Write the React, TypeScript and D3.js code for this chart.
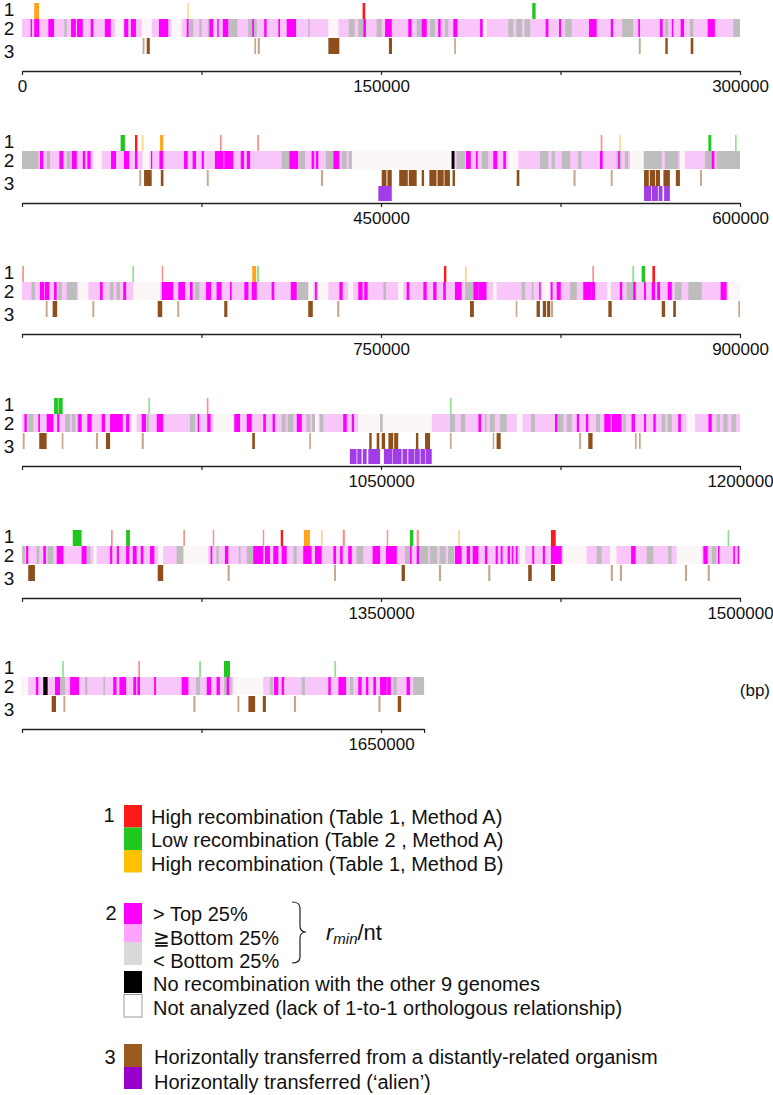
import {useEffect, useRef} from "react";
import * as d3 from "d3";

// positions are in kb along the genome: [start, width]
const GENOME_END = 1668;
const PANEL_LEN = 300;
const panelTops = [19, 151, 282, 414, 546, 677];

// track 2: r_min/nt classes
const magentaGenes = [
    [3.6, 0.6], [5.1, 2.1], [11.0, 2.4], [20.5, 2.0], [23.0, 2.4], [28.7, 1.1], [34.6, 2.5], [42.7, 1.7], [45.5, 2.1],
    [57.2, 3.9], [68.8, 0.8], [78.3, 1.6], [81.6, 0.6], [83.9, 2.3], [96.2, 0.7], [101.2, 1.0], [107.1, 0.7], [110.6, 3.9],
    [142.6, 1.1], [151.7, 2.8], [161.4, 1.4], [167.0, 2.1], [173.9, 1.0], [180.2, 1.7], [191.4, 1.1], [218.8, 1.1],
    [224.4, 0.8], [236.9, 3.2], [246.0, 1.0], [257.5, 0.7], [266.6, 1.1], [271.5, 0.6], [275.2, 1.4], [286.5, 3.0],
    [307.5, 1.4], [315.6, 1.7], [320.8, 2.1], [325.4, 1.0], [327.3, 1.4], [337.2, 2.1], [342.6, 2.2], [347.2, 1.0],
    [353.9, 0.5], [357.4, 1.6], [367.7, 1.5], [371.3, 1.4], [375.1, 0.9], [380.6, 3.6], [384.5, 3.8], [391.4, 1.4],
    [393.9, 1.4], [411.7, 3.7], [421.0, 1.1], [422.8, 1.0], [430.1, 2.5], [485.5, 2.0], [489.7, 0.7], [496.9, 1.7],
    [501.1, 1.1], [541.5, 1.1], [549.1, 0.7], [588.2, 1.1],
    [607.5, 1.8], [609.6, 1.8], [613.4, 1.1], [632.6, 1.1], [642.3, 1.2], [658.4, 4.8], [665.3, 2.8], [670.2, 1.1],
    [676.9, 2.1], [681.3, 2.1], [686.9, 0.7], [692.9, 1.7], [696.0, 2.1], [704.3, 1.1], [712.3, 2.5], [722.4, 0.8],
    [732.6, 1.4], [740.5, 1.8], [743.0, 1.4], [760.7, 1.1], [767.7, 1.4], [771.8, 1.4], [776.0, 1.1], [780.9, 2.8],
    [788.6, 2.1], [790.7, 3.4], [816.1, 0.6], [820.9, 0.8], [823.4, 1.7], [834.5, 3.5], [838.0, 1.4], [849.8, 1.0],
    [855.4, 1.0], [859.9, 0.8], [863.1, 1.4], [865.4, 1.2], [869.8, 1.7], [891.9, 2.5],
    [901.0, 1.0], [906.8, 0.7], [910.3, 2.8], [914.7, 0.9], [923.5, 1.4], [927.3, 1.8], [933.3, 1.4], [936.8, 5.3],
    [943.5, 1.3], [950.0, 1.8], [956.3, 2.7], [973.4, 0.6], [977.4, 1.4], [988.7, 2.4], [993.9, 2.1], [1000.8, 1.1],
    [1004.7, 1.0], [1014.8, 2.1], [1034.2, 1.5], [1037.8, 0.9], [1090.7, 1.1], [1122.7, 1.0], [1131.8, 1.0],
    [1135.6, 1.0], [1143.3, 2.7], [1146.4, 4.1], [1154.7, 1.4], [1159.9, 0.8], [1163.8, 1.0], [1174.2, 1.1], [1186.8, 1.4],
    [1201.7, 0.9], [1208.9, 1.1], [1214.5, 2.8], [1224.9, 2.1], [1236.8, 0.9], [1239.6, 0.9], [1243.5, 1.3],
    [1246.3, 1.6], [1249.6, 1.1], [1253.5, 1.8], [1278.8, 0.7], [1284.8, 1.4], [1296.6, 4.2], [1301.5, 2.1],
    [1305.0, 2.1], [1308.5, 2.1], [1317.5, 3.5], [1322.4, 2.8], [1330.1, 1.1], [1332.9, 1.1], [1336.3, 1.5],
    [1346.5, 3.1], [1352.1, 4.5], [1362.1, 0.7], [1364.9, 1.1], [1380.9, 2.8], [1385.8, 1.4], [1388.3, 2.4],
    [1393.4, 1.0], [1397.9, 0.9], [1400.0, 0.8], [1402.9, 1.0], [1404.6, 0.7], [1406.3, 0.8], [1413.2, 0.8],
    [1417.6, 0.9], [1421.0, 4.5], [1454.5, 1.9], [1484.7, 1.8], [1490.8, 0.6], [1497.2, 0.7], [1499.0, 0.6],
    [1505.8, 1.0], [1513.8, 2.1], [1520.1, 3.7], [1538.1, 1.4], [1540.7, 2.8], [1546.5, 1.2], [1548.2, 1.1],
    [1555.2, 0.8], [1566.7, 2.8], [1577.2, 1.8], [1581.3, 1.4], [1585.5, 1.0], [1605.3, 1.8], [1608.5, 1.0],
    [1628.0, 1.0], [1632.2, 3.2], [1640.5, 1.4], [1643.7, 1.0], [1646.8, 1.1], [1649.6, 2.8], [1652.6, 1.5], [1660.7, 1.4]
];

const grayGenes = [
    [17.7, 1.0], [69.6, 2.0], [74.1, 1.0], [77.6, 0.8], [86.2, 3.8], [94.5, 3.6], [119.6, 0.7], [136.5, 2.5],
    [140.5, 2.0], [148.2, 2.1], [164.9, 2.1], [170.5, 2.1], [176.7, 1.4], [203.2, 2.0], [206.5, 2.5], [210.0, 2.3],
    [226.9, 2.8], [250.8, 4.6], [268.6, 1.4], [279.1, 1.4], [297.2, 2.8],
    [300.0, 6.8], [310.3, 1.4], [318.7, 1.6], [408.5, 3.2], [415.8, 2.4], [427.0, 3.1], [433.6, 2.0], [436.5, 1.3],
    [481.6, 3.5], [492.1, 2.7], [516.4, 3.5], [521.3, 1.4], [525.5, 3.5], [532.4, 1.4], [548.4, 2.1], [551.9, 1.4],
    [559.9, 7.4], [568.6, 5.6], [585.4, 3.4], [590.2, 9.8],
    [604.0, 1.4], [615.2, 1.4], [618.7, 4.2], [636.8, 1.4], [639.5, 1.4], [672.3, 1.8], [715.2, 4.4], [751.0, 1.1],
    [785.1, 3.5], [808.8, 1.4], [813.0, 0.7], [829.0, 2.8], [852.6, 4.2], [872.8, 2.8], [878.4, 5.6],
    [902.6, 2.1], [918.0, 2.0], [920.8, 1.5], [923.0, 1.2], [952.0, 1.0], [970.2, 2.1], [1008.5, 1.7], [1011.0, 2.4],
    [1018.9, 1.5], [1021.2, 1.2], [1024.5, 1.4], [1049.6, 1.1], [1078.8, 2.1], [1083.3, 1.8], [1093.4, 0.7],
    [1095.5, 2.1], [1099.7, 2.8], [1112.7, 1.6], [1123.7, 2.5], [1127.6, 2.1], [1139.8, 1.7], [1151.0, 1.3],
    [1167.3, 1.5], [1169.8, 1.7], [1190.2, 1.4], [1193.0, 1.8], [1196.5, 1.8],
    [1200.1, 1.2], [1206.1, 1.1], [1210.7, 2.4], [1227.0, 1.6], [1264.6, 2.8], [1281.2, 1.0], [1290.6, 0.7],
    [1293.9, 2.7], [1313.4, 1.4], [1339.8, 2.8], [1360.0, 2.1], [1366.3, 3.5], [1370.5, 3.0], [1374.5, 2.5],
    [1378.0, 2.5], [1440.1, 2.1], [1461.0, 2.8], [1470.0, 1.4], [1488.2, 2.0],
    [1515.9, 2.1], [1526.3, 1.0], [1534.0, 0.7], [1572.7, 1.7], [1584.4, 3.2], [1603.6, 1.4], [1616.9, 1.3],
    [1637.0, 1.4], [1655.1, 1.5], [1663.5, 4.5]
];

const notAnalyzed = [
    [38.9, 3.4], [50.0, 4.2], [62.5, 4.2], [128.0, 4.2], [192.7, 1.4],
    [329.8, 3.5], [350.4, 2.8], [437.8, 41.7], [503.2, 4.2], [554.0, 5.6], [574.9, 2.1],
    [623.5, 4.2], [646.5, 11.2], [719.6, 2.1], [723.8, 4.2], [736.3, 2.1], [757.2, 2.1], [796.9, 1.4], [817.1, 3.5],
    [844.5, 1.5], [895.1, 4.9],
    [945.8, 2.1], [979.9, 8.4], [1022.4, 1.5], [1040.5, 30.7], [1106.7, 2.5], [1177.7, 3.5],
    [1229.8, 1.4], [1256.9, 2.1], [1267.4, 10.4], [1408.1, 2.1], [1426.2, 9.7], [1445.7, 2.7], [1473.5, 10.5],
    [1500.1, 2.5], [1588.3, 12.5]
];

const noRecombination = [[479.5, 1.2], [1508.9, 1.8]];

// track 1
const highRecA = [
    [142.3, 1.1], [347.2, 1.0], [382.7, 0.7], [398.3, 0.7], [541.8, 0.7], [600.1, 0.7], [658.4, 0.6], [776.3, 1.0],
    [838.3, 0.7], [863.4, 1.1], [977.2, 0.7], [1237.2, 0.7], [1267.4, 0.7], [1279.7, 0.6], [1300.6, 0.6],
    [1308.1, 1.0], [1334.0, 0.9], [1352.4, 0.6], [1364.9, 0.9], [1421.0, 2.0], [1548.6, 0.7]
];
const lowRecA = [
    [213.2, 1.4], [341.2, 1.8], [586.8, 1.2], [597.9, 0.7], [646.1, 0.7], [698.1, 0.9], [855.0, 0.8], [858.9, 1.4],
    [913.4, 1.6], [915.2, 1.8], [952.8, 0.7], [1078.8, 0.7], [1221.2, 3.7], [1243.5, 1.6], [1362.1, 1.4],
    [1494.8, 0.7], [1516.8, 0.7], [1574.0, 0.8], [1584.4, 2.5], [1630.5, 0.7]
];
const highRecB = [
    [5.1, 2.0], [69.1, 0.6], [350.0, 0.7], [357.7, 1.3], [549.6, 0.6], [696.2, 1.6], [785.1, 0.7], [1317.8, 2.5],
    [1324.9, 0.7], [1382.3, 0.7]
];

// track 3
const hgtDistant = [
    [50.4, 0.8], [52.1, 1.3], [97.1, 0.7], [98.5, 0.9], [128.0, 4.6], [153.3, 1.3], [180.6, 0.7], [257.7, 0.8],
    [268.8, 1.0], [279.4, 1.1],
    [349.0, 0.8], [351.0, 3.2], [358.0, 1.1], [377.2, 0.8], [424.9, 0.9], [450.3, 2.0], [452.7, 1.8], [457.6, 3.6],
    [461.6, 3.3], [467.0, 1.0], [470.2, 3.0], [473.6, 2.6], [476.5, 2.3], [479.9, 1.0], [506.7, 1.1], [530.4, 0.9],
    [546.0, 0.8], [559.9, 2.0], [562.3, 2.2], [564.8, 1.8], [568.0, 2.7], [573.2, 1.7], [583.3, 0.8],
    [609.9, 0.8], [612.8, 1.9], [629.4, 0.8], [656.7, 1.9], [664.9, 0.8], [684.5, 1.3], [719.6, 1.9], [731.7, 0.9],
    [787.2, 1.6], [806.3, 0.7], [815.0, 1.4], [817.6, 1.4], [819.4, 1.3], [821.0, 0.9], [845.0, 1.4], [867.3, 1.4],
    [872.1, 1.1], [899.3, 0.7],
    [900.3, 0.8], [907.2, 3.1], [916.6, 0.7], [930.9, 0.9], [935.1, 1.7], [950.0, 0.9], [996.2, 1.1], [1020.0, 0.7],
    [1045.1, 1.0], [1048.2, 1.1], [1050.3, 1.4], [1053.1, 2.0], [1055.5, 1.7], [1064.6, 1.0], [1068.4, 2.1],
    [1078.8, 0.7], [1096.7, 0.6], [1098.3, 1.7], [1132.8, 0.8], [1136.6, 1.8], [1156.1, 0.7], [1157.8, 0.7],
    [1202.6, 2.8], [1256.7, 2.3], [1285.9, 0.9], [1330.4, 0.8], [1358.6, 1.4], [1374.2, 0.9], [1394.8, 0.9],
    [1411.5, 1.5], [1421.0, 1.7], [1446.0, 0.9], [1449.8, 0.9], [1477.0, 0.9], [1486.5, 0.9],
    [1512.4, 1.8], [1517.3, 0.8], [1571.6, 0.9], [1590.0, 0.8], [1594.6, 2.8], [1600.6, 1.3], [1613.6, 0.9],
    [1648.9, 0.9], [1657.0, 1.4]
];
const hgtAlien = [
    [448.9, 5.6], [559.9, 3.0], [563.2, 2.5], [566.0, 1.6], [568.3, 2.4],
    [1037.0, 2.8], [1040.1, 1.8], [1042.4, 1.6], [1044.7, 4.9], [1051.2, 3.6], [1055.0, 3.6], [1059.0, 2.0],
    [1061.4, 2.4], [1064.0, 2.2], [1066.5, 2.0], [1068.7, 2.5]
];

const legendRec = ["High recombination (Table 1, Method A)", "Low recombination (Table 2 , Method A)", "High recombination (Table 1, Method B)"];
const legendRmin = ["> Top 25%", "≧Bottom 25%", "< Bottom 25%"];
const legendOther = ["No recombination with the other 9 genomes", "Not analyzed (lack of 1-to-1 orthologous relationship)"];
const legendHgt = ["Horizontally transferred from a distantly-related organism", "Horizontally transferred (\u2018alien\u2019)"];

const C = {
    red: "#ff1a1a", green: "#1fc71f", orange: "#ffa41c",
    magenta: "#ff00ff", pink: "#f9c6f9", gray: "#bdbdbd", white: "#fbf7f7", black: "#000",
    brown: "#8f4f1c", purple: "#a23ce6"
};

function App() {
    const ref = useRef(null);

    useEffect(() => {
        document.body.style.margin = "0";
        const svg = d3.select(ref.current);
        svg.selectAll("*").remove();

        panelTops.forEach((T, p) => {
            const start = p * PANEL_LEN;
            const end = Math.min(start + PANEL_LEN, GENOME_END);
            let x = d3.scaleLinear()
                .domain([start, end])
                .range([22, 22 + (end - start) / PANEL_LEN * 718]);

            let g = svg.append("g");
            const inPanel = d => d[0] >= start && d[0] < start + PANEL_LEN;

            const bars = (data, y, h, fill, fade) => g.append("g")
                .selectAll("rect")
                .data(data.filter(inPanel))
                .join("rect")
                .attr("x", d => x(d[0]))
                .attr("width", d => Math.max(0.8, x(d[0] + d[1]) - x(d[0])))
                .attr("y", y)
                .attr("height", h)
                .attr("fill", fill)
                .attr("opacity", d => fade && d[1] < 1 ? 0.5 : 1);

            // track 2 background = ">= bottom 25%"
            g.append("rect")
                .attr("x", x(start)).attr("width", x(end) - x(start))
                .attr("y", T).attr("height", 18)
                .attr("fill", C.pink);
            bars(notAnalyzed, T, 18, C.white, false);
            bars(grayGenes, T, 18, C.gray, false);
            bars(magentaGenes, T, 18, C.magenta, false);
            bars(noRecombination, T, 18, C.black, false);

            // track 1
            bars(highRecA, T - 16, 16, C.red, true);
            bars(lowRecA, T - 16, 16, C.green, true);
            bars(highRecB, T - 16, 16, C.orange, true);

            // track 3
            bars(hgtDistant, T + 19, 16, C.brown, true);
            bars(hgtAlien, T + 35, 15, C.purple, false);

            // row labels
            [["1", T - 10], ["2", T + 9], ["3", T + 32]].forEach(([t, y]) => {
                g.append("text")
                    .attr("x", 9).attr("y", y)
                    .attr("text-anchor", "middle")
                    .attr("dominant-baseline", "central")
                    .attr("font-size", 19)
                    .attr("fill", "#111")
                    .text(t);
            });

            // axis
            let ticks = d3.range(start, end + 0.01, 75);
            if (end % 75) ticks.push(end);
            let axis = d3.axisBottom(x)
                .tickValues(ticks)
                .tickSize(4)
                .tickSizeOuter(0)
                .tickPadding(5)
                .tickFormat(d => (d % 150 === 0 && (d !== start || p === 0)) ? d3.format("d")(d * 1000) : "");

            let ax = g.append("g")
                .attr("transform", `translate(0,${T + 52})`)
                .call(axis)
                .attr("font-size", 17)
                .attr("font-family", "'Liberation Sans', Arial, sans-serif");
            ax.select(".domain").attr("stroke", "#222").attr("stroke-width", 1.4);
            ax.selectAll(".tick line").attr("stroke", "#222").attr("stroke-width", 1.2);
            ax.selectAll(".tick text").attr("fill", "#111");
        });

        svg.append("text")
            .attr("x", 770).attr("y", 690)
            .attr("text-anchor", "end")
            .attr("dominant-baseline", "central")
            .attr("font-size", 17)
            .attr("fill", "#111")
            .text("(bp)");

        // ----------------
        // legend
        // ----------------
        let lg = svg.append("g").attr("font-size", 20).attr("fill", "#111");

        const label = (t, x, y) => lg.append("text")
            .attr("x", x).attr("y", y)
            .attr("text-anchor", "middle")
            .attr("dominant-baseline", "central")
            .attr("font-size", 20)
            .text(t);
        const swatch = (y, h, fill, stroke) => lg.append("rect")
            .attr("x", 124).attr("y", y).attr("width", 18).attr("height", h)
            .attr("fill", fill)
            .attr("stroke", stroke || "none");
        const item = (t, x, y) => lg.append("text")
            .attr("x", x).attr("y", y)
            .attr("dominant-baseline", "central")
            .text(t);

        label("1", 109, 815);
        [C.red, C.green, "#ffc000"].forEach((c, i) => swatch(805 + i * 22.5, 22.5, c));
        legendRec.forEach((t, i) => item(t, 151, 817 + i * 23.3));

        label("2", 111, 913);
        swatch(903, 21, C.magenta);
        swatch(924, 18, "#ffa3ff");
        swatch(942, 23, "#d9d9d9");
        swatch(971, 22, "#000");
        swatch(994.5, 22.5, "#fff", "#999");
        legendRmin.forEach((t, i) => item(t, 153, 914 + i * 23.5));
        legendOther.forEach((t, i) => item(t, 153, 984 + i * 24));

        lg.append("path")
            .attr("d", "M292,902 Q300,902 300,908 L300,926 Q300,932 306,932 Q300,932 300,938 L300,957 Q300,963 292,963")
            .attr("fill", "none")
            .attr("stroke", "#222")
            .attr("stroke-width", 1.2);

        let rt = lg.append("text")
            .attr("x", 326).attr("y", 940)
            .attr("font-size", 22);
        rt.append("tspan").attr("font-style", "italic").text("r");
        rt.append("tspan").attr("font-style", "italic").attr("font-size", 15).attr("dy", 4).text("min");
        rt.append("tspan").attr("dy", -4).text("/nt");

        label("3", 110, 1057);
        swatch(1044, 23, "#9b5a1f");
        swatch(1067, 22, "#9900cc");
        legendHgt.forEach((t, i) => item(t, 154, 1057 + i * 25));

    }, []);

    return <svg ref={ref} width={773} height={1095}
                style={{display: "block", fontFamily: "'Liberation Sans', Arial, sans-serif"}}/>;
}

export default App;
